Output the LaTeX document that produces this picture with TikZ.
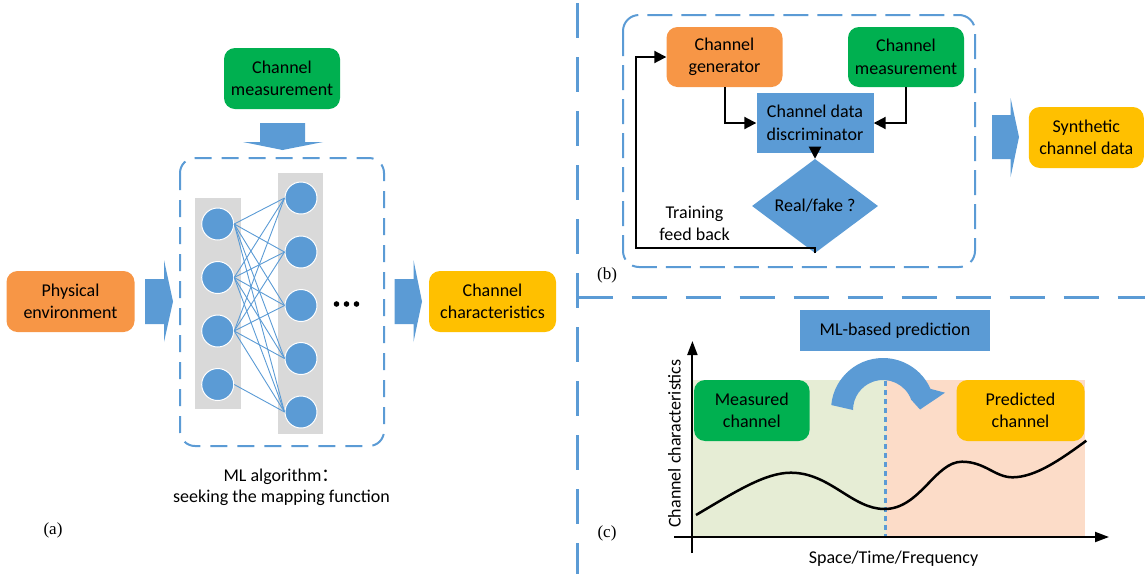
\documentclass[tikz,border=0pt]{standalone}
\usepackage{fontspec}
\setmainfont{Carlito}
\newfontfamily\timesf{Liberation Serif}
\newfontfamily\cjkf{Noto Sans CJK SC}
\usetikzlibrary{arrows.meta,shapes.geometric}
\definecolor{cblue}{HTML}{5B9BD5}
\definecolor{cgreen}{HTML}{00B050}
\definecolor{corange}{HTML}{F79646}
\definecolor{cyellow}{HTML}{FFC000}
\definecolor{cgray}{HTML}{D9D9D9}
\definecolor{bggreen}{HTML}{E6EDD5}
\definecolor{bgpeach}{HTML}{FCDCC8}
\begin{document}
\begin{tikzpicture}[x=1pt,y=-1pt,
  txt/.style={font=\fontsize{18}{22.5}\selectfont, text=black, align=center, inner sep=0pt},
  rbox/.style={txt, rounded corners=11pt, fill=#1},
  sbox/.style={txt, fill=cblue},
  neuron/.style={circle, fill=cblue, draw=white, line width=1pt, minimum size=32pt, inner sep=0pt},
  nnline/.style={cblue, line width=0.9pt},
  flow/.style={-{Triangle[length=12pt,width=12pt]}, line width=2pt, black},
  dboxa/.style={cblue, line width=2pt, dash pattern=on 17pt off 10pt, rounded corners=15pt},
  dboxb/.style={cblue, line width=2pt, dash pattern=on 25pt off 9pt, rounded corners=16pt},
  sepline/.style={cblue, line width=2.5pt, dash pattern=on 35pt off 19pt},
  axisline/.style={-{Triangle[length=14pt,width=10pt]}, line width=2pt, black},
  lab/.style={font=\timesf\fontsize{17}{20}\selectfont, inner sep=0pt, text=black},
]
\useasboundingbox (0,0) rectangle (1145,574);

% separators
\draw[sepline] (577.7,3) -- (577.7,574);
\draw[sepline] (577.7,297.5) -- (1145,297.5);

% ---------------- panel (a)
\node[rbox=cgreen, minimum width=116pt, minimum height=61pt] (cm) at (282,78.5) {Channel\\measurement};
\node[rbox=corange, minimum width=128pt, minimum height=61pt] (pe) at (70.5,301.5) {Physical\\environment};
\node[rbox=cyellow, minimum width=127pt, minimum height=61pt] (cc) at (492.5,301.5) {Channel\\characteristics};

\fill[cblue] (260,123) -- (305,123) -- (305,142) -- (323,142) -- (282.5,150) -- (243,142) -- (260,142) -- cycle;
\fill[cblue] (145,279) -- (164,279) -- (164,260) -- (173,301.5) -- (164,342) -- (164,324) -- (145,324) -- cycle;
\fill[cblue] (394.5,279) -- (413.5,279) -- (413.5,260) -- (422,301.5) -- (413.5,342) -- (413.5,324) -- (394.5,324) -- cycle;

\draw[dboxa] (180,158) rectangle (384,446);
\fill[cgray] (195,198) rectangle (241,409);
\fill[cgray] (278,173) rectangle (323,434);

\foreach \i/\y in {1/224,2/277.5,3/331,4/384.5} \node[neuron] (L\i) at (217.7,\y) {};
\foreach \j/\y in {1/198,2/252,3/305.5,4/358.5,5/412} \node[neuron] (R\j) at (301,\y) {};
\foreach \i in {1,2,3} \foreach \j in {1,...,5} \draw[nnline] (L\i.east) -- (R\j.west);
\draw[nnline] (L4.east) -- (R5.west);

\foreach \x in {336.5,346.5,356.5} \fill[black] (\x,304) circle[radius=2.8pt];

\node[txt, font=\fontsize{18}{21}\selectfont] (mla) at (281.5,487) {ML algorithm{\cjkf ：}\\seeking the mapping function};
\node[lab] (la) at (53,530) {(a)};

% ---------------- panel (b)
\draw[dboxb] (623,15) rectangle (975,267);
\node[rbox=corange, minimum width=116pt, minimum height=60pt] (gen) at (724.5,57) {Channel\\generator};
\node[rbox=cgreen, minimum width=116pt, minimum height=60pt] (meas) at (906,57) {Channel\\measurement};
\node[sbox, minimum width=117pt, minimum height=60pt] (disc) at (815,123) {Channel data\\discriminator};
\node[txt, diamond, fill=cblue, minimum width=126pt, minimum height=58pt] (dia) at (815,206) {Real/fake ?};
\coordinate (fbk) at (636,248);
\draw[flow] (gen.south) |- (disc.west);
\draw[flow] (meas.south) |- (disc.east);
\draw[flow] (disc.south) -- (dia.north);
\draw[flow] (dia.south) |- (fbk) |- (gen.west);
\node[txt] (tfb) at (694.5,223.5) {Training\\feed back};

\fill[cblue] (992,115) -- (1010.6,115) -- (1010.6,98) -- (1019,137) -- (1010.6,177) -- (1010.6,159) -- (992,159) -- cycle;
\node[rbox=cyellow, minimum width=115pt, minimum height=61pt] (syn) at (1086.3,137.5) {Synthetic\\channel data};
\node[lab] (lb) at (607,275) {(b)};

% ---------------- panel (c)
\fill[bggreen] (692.4,380) rectangle (885.6,537);
\fill[bgpeach] (885.6,380) rectangle (1084.5,537);
\draw[cblue, line width=2.5pt, dash pattern=on 5pt off 4pt] (885.6,381) -- (885.6,537);
\draw[black, line width=2.5pt] (696,515) .. controls (735,492) and (765,472.7) .. (790.8,472.7)
  .. controls (830,472.7) and (852,509) .. (884.5,509)
  .. controls (920,509) and (935,461.7) .. (962,461.7)
  .. controls (985,461.7) and (995,477.3) .. (1012.4,477.3)
  .. controls (1035,477.3) and (1060,460) .. (1086.3,440.7);
\draw[axisline] (692.4,553) -- (692.4,341);
\draw[axisline] (674,537) -- (1109,537);

\node[sbox, minimum width=190pt, minimum height=41pt] (mlp) at (895,330.5) {ML-based prediction};
\node[rbox=cgreen, minimum width=115.5pt, minimum height=61pt] (mc) at (751.8,410.5) {Measured\\channel};
\node[rbox=cyellow, minimum width=128pt, minimum height=61pt] (pc) at (1020.5,410.5) {Predicted\\channel};

\fill[cblue] ([shift={(883,410)}]185.5:52) arc[start angle=185.5, end angle=336, radius=52]
  -- (945,392.7) -- (920,409.5) -- ([shift={(883,410)}]340:30) arc[start angle=340, end angle=180, radius=30] -- cycle;

\node[txt, rotate=90] (yl) at (674.5,443.5) {Channel characteristics};
\node[txt] (xl) at (893.5,559) {Space/Time/Frequency};
\node[lab] (lc) at (607,533) {(c)};
\end{tikzpicture}
\end{document}
